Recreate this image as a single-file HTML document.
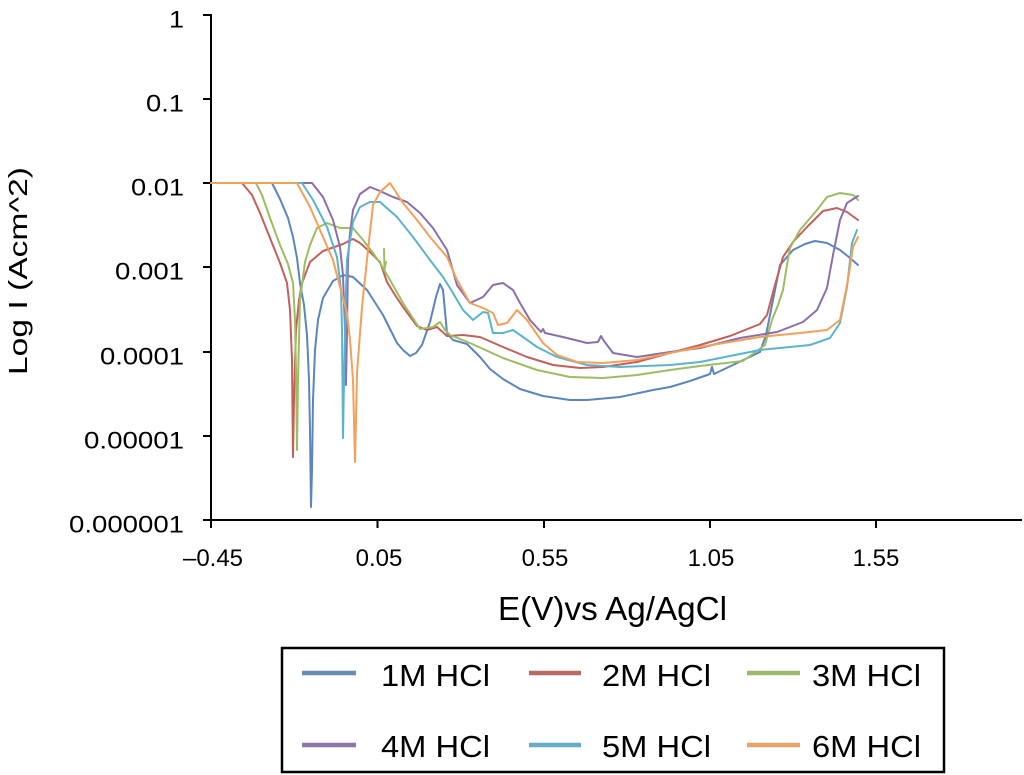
<!DOCTYPE html>
<html>
<head>
<meta charset="utf-8">
<style>
  html, body { margin: 0; padding: 0; background: #ffffff; }
  svg { display: block; }
  text { font-family: "Liberation Sans", Arial, sans-serif; fill: #000; }
</style>
</head>
<body>
<svg width="1024" height="775" viewBox="0 0 1024 775" xmlns="http://www.w3.org/2000/svg">
  <rect x="0" y="0" width="1024" height="775" fill="#ffffff"/>

  <!-- Axes -->
  <g stroke="#000" stroke-width="2" fill="none">
    <line x1="211" y1="14" x2="211" y2="521"/>
    <line x1="210" y1="520" x2="1022" y2="520"/>
    <!-- y ticks -->
    <line x1="203" y1="15" x2="211" y2="15"/>
    <line x1="203" y1="99" x2="211" y2="99"/>
    <line x1="203" y1="183" x2="211" y2="183"/>
    <line x1="203" y1="267" x2="211" y2="267"/>
    <line x1="203" y1="352" x2="211" y2="352"/>
    <line x1="203" y1="436" x2="211" y2="436"/>
    <line x1="203" y1="520" x2="211" y2="520"/>
    <!-- x ticks -->
    <line x1="211" y1="520" x2="211" y2="528"/>
    <line x1="377.5" y1="520" x2="377.5" y2="528"/>
    <line x1="544" y1="520" x2="544" y2="528"/>
    <line x1="710" y1="520" x2="710" y2="528"/>
    <line x1="876" y1="520" x2="876" y2="528"/>
  </g>

  <!-- Y tick labels -->
  <g font-size="24" text-anchor="end">
    <text x="184" y="27.5" textLength="15" lengthAdjust="spacingAndGlyphs">1</text>
    <text x="184" y="111.5" textLength="38" lengthAdjust="spacingAndGlyphs">0.1</text>
    <text x="184" y="195.5" textLength="53" lengthAdjust="spacingAndGlyphs">0.01</text>
    <text x="184" y="279.5" textLength="69" lengthAdjust="spacingAndGlyphs">0.001</text>
    <text x="184" y="364.5" textLength="84" lengthAdjust="spacingAndGlyphs">0.0001</text>
    <text x="184" y="448.5" textLength="100" lengthAdjust="spacingAndGlyphs">0.00001</text>
    <text x="184" y="532.5" textLength="115" lengthAdjust="spacingAndGlyphs">0.000001</text>
  </g>

  <!-- X tick labels -->
  <g font-size="24" text-anchor="middle">
    <text x="213" y="566">–0.45</text>
    <text x="379" y="566">0.05</text>
    <text x="545" y="566">0.55</text>
    <text x="711" y="566">1.05</text>
    <text x="876" y="566">1.55</text>
  </g>

  <!-- Axis titles -->
  <text x="498" y="620" font-size="33" textLength="229" lengthAdjust="spacingAndGlyphs">E(V)vs Ag/AgCl</text>
  <text transform="translate(27,271) rotate(-90)" font-size="26" text-anchor="middle" textLength="208" lengthAdjust="spacingAndGlyphs">Log I (Acm^2)</text>

  <!-- Series -->
  <g fill="none" stroke-width="2" stroke-linejoin="round" stroke-linecap="round">
    <!-- 1M HCl -->
    <polyline stroke="#5b86bd" points="211,183 272,183 280,199 288,218 293,237 297,258 300,283 304,305 307,335 309,380 310,430 311,507 312,470 313,400 315,350 318,320 323,298 333,281 343,275 353,277 367,290 383,315 397,343 403,350 410,356 416,353 422,345 430,322 436,297 440,284 443,290 447,333 453,340 467,344 480,357 490,369 503,379 520,389 543,396 570,400 587,400 620,397 653,390 670,387 690,381 710,374 712,367 714,374 735,364 760,352 766,335 772,305 780,265 793,250 805,244 815,241 827,243 840,250 850,258 858,265"/>
    <!-- 2M HCl -->
    <polyline stroke="#c4605a" points="211,183 242,183 252,195 260,213 270,238 280,263 287,283 290,310 292,360 293,457 294,400 296,330 299,300 302,283 310,262 323,251 343,244 353,239 360,243 370,252 380,262 387,282 395,295 403,307 417,326 427,330 437,327 447,336 463,335 480,337 503,347 527,357 553,365 580,368 603,367 637,362 670,353 700,345 730,336 760,324 767,315 775,285 783,257 793,242 807,227 823,211 837,208 847,212 858,220"/>
    <!-- 3M HCl -->
    <polyline stroke="#9dbd62" points="211,183 256,183 262,195 270,218 280,245 288,264 293,283 295,320 296,370 297,450 298,380 300,300 305,262 310,245 317,228 327,223 340,228 353,228 363,240 373,253 380,263 390,280 403,303 420,329 433,327 440,322 445,330 450,335 470,343 503,358 537,370 570,377 603,378 637,375 670,370 700,366 743,361 765,345 772,320 778,305 783,290 787,265 790,248 800,230 817,210 827,197 840,193 853,195 858,200"/>
    <polyline stroke="#9dbd62" points="384,249 384.5,270 386,262"/>
    <!-- 4M HCl -->
    <polyline stroke="#8a6fab" points="211,183 312,183 323,197 333,220 340,247 343,275 345,330 346,385 347,330 348,260 350,233 353,210 360,194 370,187 380,191 393,197 407,202 420,213 433,228 447,250 457,285 470,303 483,297 493,285 503,283 513,290 520,303 530,320 541,332 543,329 545,333 563,337 587,343 598,342 601,336 604,341 613,353 637,357 670,352 700,348 740,338 777,332 803,322 817,310 827,288 833,255 840,220 847,203 858,196"/>
    <!-- 5M HCl -->
    <polyline stroke="#5cb3cc" points="211,183 302,183 313,200 327,227 337,257 341,290 342,330 343,438 344,380 346,290 347,260 353,222 360,207 370,202 380,202 397,217 413,237 430,260 443,277 453,293 463,310 473,320 483,312 488,313 493,333 503,333 513,330 523,337 537,347 557,357 587,365 620,367 670,365 700,362 760,350 810,345 830,338 840,323 847,287 852,243 857,230"/>
    <!-- 6M HCl -->
    <polyline stroke="#f3a05a" points="211,183 297,183 310,207 323,237 333,260 340,287 347,313 350,340 353,380 355,462 356,420 357,373 362,307 368,250 373,205 380,192 390,183 403,203 417,220 430,237 447,257 457,280 470,303 483,308 493,313 498,325 507,323 517,310 527,320 543,343 557,355 577,362 603,363 637,360 670,353 700,347 760,337 800,333 827,330 840,320 848,280 853,247 858,237"/>
  </g>

  <!-- Legend -->
  <rect x="282" y="648" width="662" height="124" fill="#fff" stroke="#000" stroke-width="2.5"/>
  <g stroke-width="4.5" stroke-linecap="butt">
    <line x1="302" y1="673" x2="356" y2="673" stroke="#6a8ab6"/>
    <line x1="529" y1="673" x2="581" y2="673" stroke="#b86a64"/>
    <line x1="747" y1="673" x2="800" y2="673" stroke="#9cb96e"/>
    <line x1="302" y1="745" x2="356" y2="745" stroke="#8b76a8"/>
    <line x1="529" y1="745" x2="581" y2="745" stroke="#66aec8"/>
    <line x1="747" y1="745" x2="800" y2="745" stroke="#e8a468"/>
  </g>
  <g font-size="31">
    <text x="381" y="686" textLength="109" lengthAdjust="spacingAndGlyphs">1M HCl</text>
    <text x="602" y="686" textLength="109" lengthAdjust="spacingAndGlyphs">2M HCl</text>
    <text x="812" y="686" textLength="109" lengthAdjust="spacingAndGlyphs">3M HCl</text>
    <text x="381" y="757" textLength="109" lengthAdjust="spacingAndGlyphs">4M HCl</text>
    <text x="602" y="757" textLength="109" lengthAdjust="spacingAndGlyphs">5M HCl</text>
    <text x="812" y="757" textLength="109" lengthAdjust="spacingAndGlyphs">6M HCl</text>
  </g>
</svg>
</body>
</html>
